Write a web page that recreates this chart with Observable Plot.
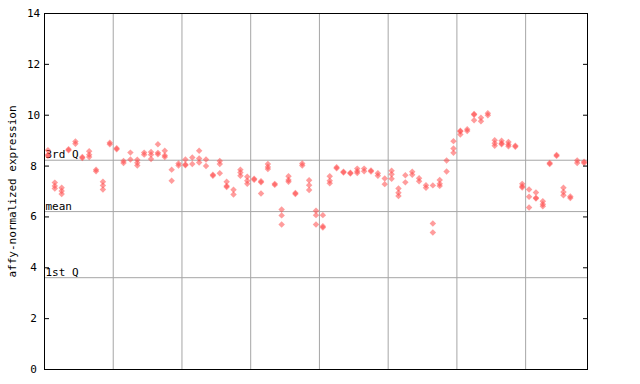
<!DOCTYPE html>
<html>
<head>
<meta charset="utf-8">
<script src="https://cdn.jsdelivr.net/npm/d3@7"></script>
<script src="https://cdn.jsdelivr.net/npm/@observablehq/plot@0.6"></script>
<style>
  html, body { margin: 0; padding: 0; background: #fff; }
</style>
</head>
<body>
<div id="chart"></div>
<script>
// Replicate expression values for each sample position (left to right)
const replicates = [
  [8.62, 8.45, 8.40], [7.35, 7.22, 7.12], [7.15, 7.02, 6.90], [8.66, 8.62],
  [8.97, 8.88], [8.36, 8.32], [8.58, 8.45, 8.36], [7.86, 7.80],
  [7.38, 7.24, 7.08], [8.92, 8.86], [8.70, 8.66], [8.20, 8.12],
  [8.53, 8.26], [8.25, 8.13, 8.02], [8.53, 8.45], [8.55, 8.45, 8.28],
  [8.86, 8.52, 8.46], [8.60, 8.42, 8.36], [7.86, 7.42], [8.10, 8.02],
  [8.26, 8.06, 8.03], [8.34, 8.08], [8.60, 8.30, 8.14], [8.26, 8.00],
  [7.66, 7.62], [8.20, 8.08, 7.72], [7.38, 7.22, 7.18], [7.07, 6.88],
  [7.86, 7.75, 7.62], [7.58, 7.42, 7.30], [7.50, 7.46], [7.40, 7.36, 6.92],
  [8.08, 7.96, 7.88], [7.30, 7.26], [6.29, 6.06, 5.70], [7.60, 7.45, 7.38],
  [6.94, 6.90], [8.10, 8.02], [7.44, 7.25, 7.06], [6.24, 6.07, 5.70],
  [6.07, 5.63, 5.58], [7.60, 7.42, 7.32], [7.95, 7.91], [7.78, 7.75],
  [7.74, 7.71], [7.90, 7.80, 7.73], [7.90, 7.80], [7.83, 7.79],
  [7.72, 7.62], [7.51, 7.29], [7.82, 7.68, 7.50], [7.12, 6.95, 6.82],
  [7.64, 7.36], [7.78, 7.66], [7.52, 7.40], [7.25, 7.15],
  [7.24, 5.74, 5.39], [7.45, 7.30, 7.22], [8.22, 7.79], [8.98, 8.69, 8.52],
  [9.39, 9.36, 9.24], [9.45, 9.38], [10.05, 10.02, 9.80], [9.90, 9.76],
  [10.08, 10.00], [9.02, 8.90, 8.80], [9.00, 8.90, 8.86], [8.95, 8.85, 8.78],
  [8.80, 8.76], [7.30, 7.21, 7.16], [7.08, 6.79, 6.37], [6.96, 6.75, 6.72],
  [6.62, 6.50, 6.42], [8.12, 8.08], [8.44, 8.40], [7.15, 6.98, 6.85],
  [6.80, 6.74], [8.22, 8.12], [8.17, 8.12]
];

// Group separators (between sample positions)
const groupBreaks = [9.5, 19.5, 29.5, 39.5, 49.5, 59.5, 69.5];

// Reference lines
const refLabels = ["3rd Q", "mean", "1st Q"];
const refValues = [8.23, 6.21, 3.61];

const yTicks = [0, 2, 4, 6, 8, 10, 12, 14];
const yLabel = "affy-normalized expression";

const points = replicates.flatMap((vals, i) => vals.map(v => ({i, v})));
const refs = refLabels.map((label, k) => ({label, value: refValues[k]}));

const chart = Plot.plot({
  width: 640,
  height: 384,
  marginLeft: 44,
  marginRight: 53,
  marginTop: 13,
  marginBottom: 15,
  style: {fontFamily: "'DejaVu Sans Mono', monospace", fontSize: "11px", background: "#fff", color: "#000"},
  x: {domain: [-0.5, replicates.length - 0.5], axis: null},
  y: {domain: [0, 14]},
  marks: [
    Plot.ruleX(groupBreaks, {stroke: "#a6a6a6", strokeWidth: 1}),
    Plot.ruleY(refs, {y: "value", stroke: "#a6a6a6", strokeWidth: 1}),
    Plot.text(refs, {x: -0.5, y: "value", text: "label", textAnchor: "start", lineAnchor: "bottom", dx: 1, dy: -2, fill: "#000"}),
    Plot.dot(points, {x: "i", y: "v", symbol: "diamond2", r: 2.9, fill: "#ff4a4a", fillOpacity: 0.55, stroke: "none"}),
    Plot.frame({stroke: "#000"}),
    Plot.axisY(yTicks, {anchor: "left", tickSize: 0, tickPadding: 11, textAnchor: "middle", label: null}),
    Plot.axisY(yTicks, {anchor: "left", tickSize: 5, dx: 5, tickFormat: () => "", label: null}),
    Plot.axisY(yTicks, {anchor: "right", tickSize: 5, dx: -5, tickFormat: () => "", label: null}),
    Plot.text([yLabel], {frameAnchor: "left", textAnchor: "middle", dx: -32, rotate: -90, text: d => d, fill: "#000"})
  ]
});
document.getElementById("chart").appendChild(chart);
</script>
</body>
</html>
